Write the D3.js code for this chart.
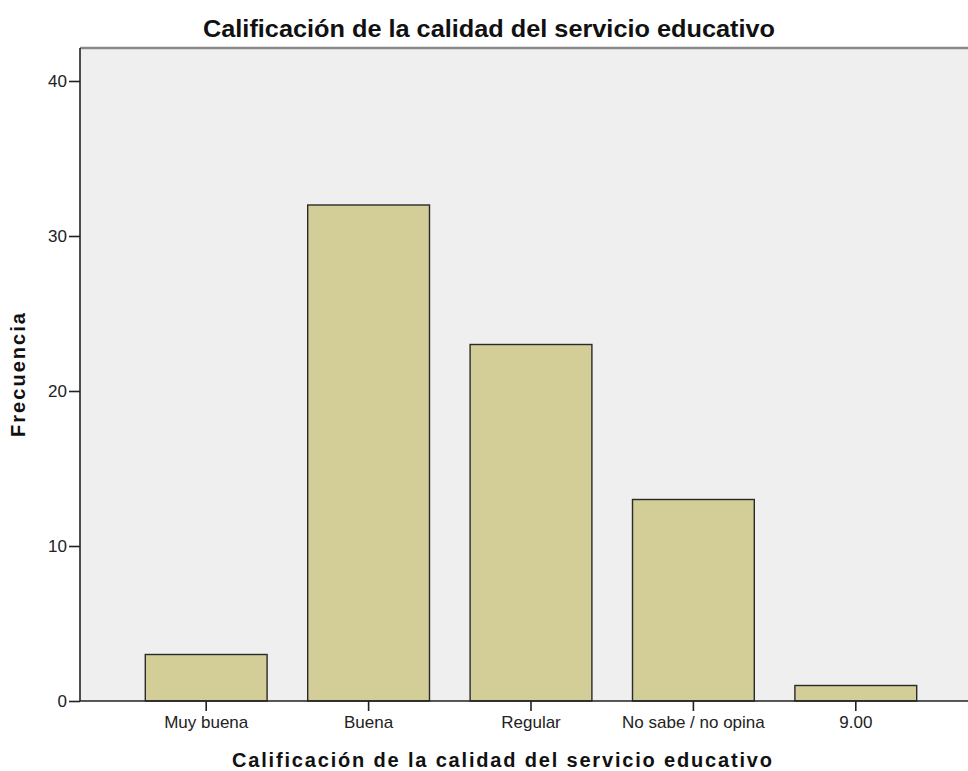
<!DOCTYPE html>
<html><head><meta charset="utf-8">
<script src="https://cdn.jsdelivr.net/npm/d3@7"></script>
<style>body{margin:0;background:#fff}svg{display:block}text{font-family:"Liberation Sans",Arial,sans-serif}</style>
</head><body><svg id="c" width="968" height="771"></svg>
<script>
const categories = ["Muy buena","Buena","Regular","No sabe / no opina","9.00"];
const values = [3,32,23,13,1];
const yTicks = [0,10,20,30,40];
const title = "Calificación de la calidad del servicio educativo";
const xTitle = "Calificación de la calidad del servicio educativo";
const yTitle = "Frecuencia";

const svg = d3.select("#c");
const L=80, T=48, R=968, B=701;
const y = d3.scaleLinear().domain([0,40]).range([B, 81]);
const x = d3.scaleBand().domain(categories).range([125,937]).paddingInner(0.25).paddingOuter(0.125);

svg.append("rect").attr("x",L).attr("y",T).attr("width",R-L).attr("height",B-T).attr("fill","#efefef");
svg.append("line").attr("x1",L).attr("x2",R).attr("y1",T).attr("y2",T).attr("stroke","#8a8a8a").attr("stroke-width",2.5);

svg.selectAll("rect.bar").data(values).enter().append("rect").attr("class","bar")
  .attr("x",(d,i)=>x(categories[i])).attr("width",x.bandwidth())
  .attr("y",d=>y(d)).attr("height",d=>B-y(d))
  .attr("fill","#d3ce98").attr("stroke","#2a2a2a").attr("stroke-width",1.4);

const ya = svg.append("g").attr("transform",`translate(${L},0)`)
  .call(d3.axisLeft(y).tickValues(yTicks).tickSize(11).tickPadding(2).tickFormat(d3.format("d")));
ya.select(".domain").attr("d",`M0,${T}V${B}`).attr("stroke","#222").attr("stroke-width",1.6);
ya.selectAll(".tick line").attr("stroke","#222").attr("stroke-width",1.6);
ya.selectAll("text").attr("font-size",17).attr("fill","#222");

const xa = svg.append("g").attr("transform",`translate(0,${B})`)
  .call(d3.axisBottom(x).tickSize(10).tickPadding(5));
xa.select(".domain").attr("d",`M${L},0H${R}`).attr("stroke","#222").attr("stroke-width",1.6);
xa.selectAll(".tick line").attr("stroke","#222").attr("stroke-width",1.6);
xa.selectAll("text").attr("font-size",17).attr("fill","#222");

svg.append("text").attr("x",489).attr("y",37).attr("text-anchor","middle")
  .attr("font-size",24).attr("font-weight","bold").attr("fill","#111")
  .attr("textLength",572).attr("lengthAdjust","spacingAndGlyphs").text(title);
svg.append("text").attr("x",502).attr("y",767).attr("text-anchor","middle")
  .attr("font-size",20).attr("font-weight","bold").attr("fill","#111")
  .attr("textLength",540).attr("lengthAdjust","spacing").text(xTitle);
svg.append("text").attr("transform","translate(25,375) rotate(-90)").attr("text-anchor","middle")
  .attr("font-size",20).attr("font-weight","bold").attr("fill","#111")
  .attr("textLength",124).attr("lengthAdjust","spacing").text(yTitle);
</script></body></html>
